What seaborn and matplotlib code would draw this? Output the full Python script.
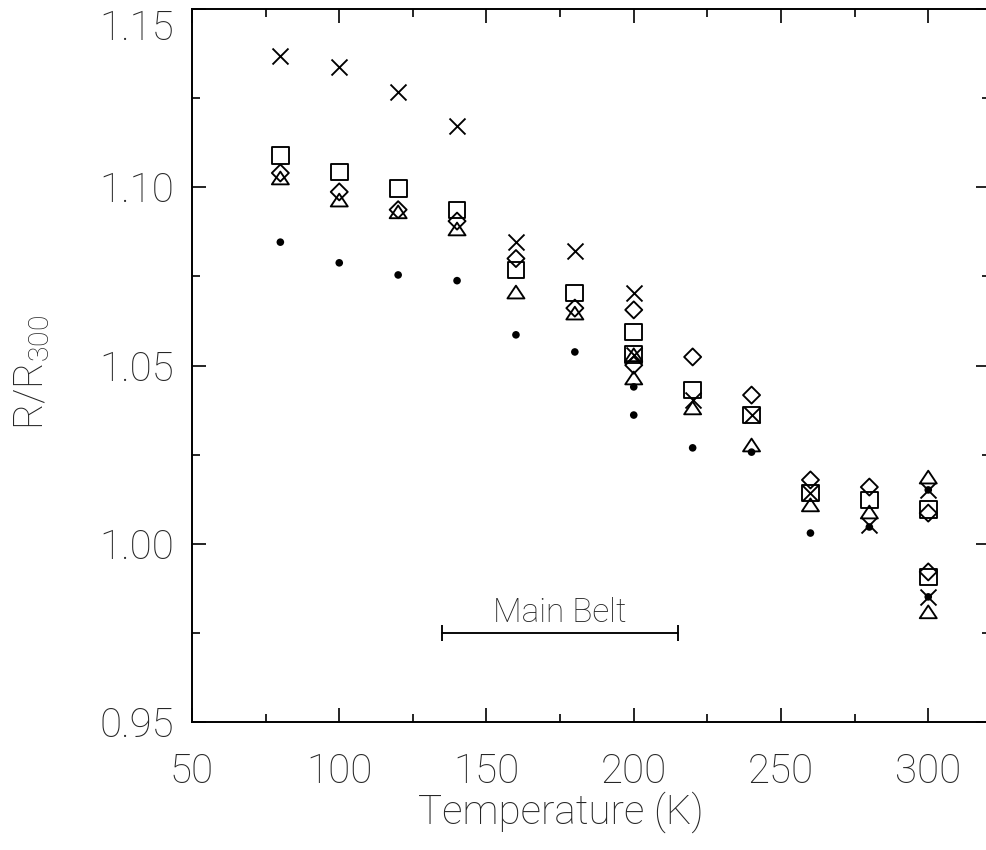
import matplotlib
matplotlib.use("Agg")
import matplotlib.pyplot as plt
import numpy as np
import pandas as pd
import seaborn as sns
from matplotlib.path import Path
from matplotlib.ticker import MultipleLocator, FixedLocator, FixedFormatter

# ---------------- data ----------------
temperature = [80, 100, 120, 140, 160, 180, 200, 220, 240, 260, 280, 300]
cross    = [1.1368, 1.1337, 1.1267, 1.1172, 1.0846, 1.0821, 1.0703, 1.0403, 1.0361, 1.0142, 1.0053, 1.0151]
square   = [1.1090, 1.1043, 1.0997, 1.0936, 1.0768, 1.0703, 1.0594, 1.0431, 1.0361, 1.0142, 1.0123, 1.0097]
diamond  = [1.1040, 1.0987, 1.0937, 1.0905, 1.0800, 1.0661, 1.0656, 1.0524, 1.0417, 1.0179, 1.0159, 1.0086]
triangle = [1.1026, 1.0964, 1.0931, 1.0883, 1.0706, 1.0647, 1.0530, 1.0381, 1.0277, 1.0109, 1.0089, 1.0187]
dot      = [1.0846, 1.0788, 1.0754, 1.0738, 1.0586, 1.0538, 1.0440, 1.0269, 1.0257, 1.0030, 1.0047, 1.0151]

# second measurement runs at 200 K and 300 K
temperature_rerun = [200, 300]
cross_rerun    = [1.0530, 0.9851]
square_rerun   = [1.0530, 0.9907]
diamond_rerun  = [1.0501, 0.9921]
triangle_rerun = [1.0465, 0.9809]
dot_rerun      = [1.0361, 0.9851]

belt_temperature = [135, 215]
belt_ratio = [0.975, 0.975]
belt_label = "Main Belt"

x_ticks = [50, 100, 150, 200, 250, 300]
x_tick_labels = ["50", "100", "150", "200", "250", "300"]
y_ticks = [0.95, 1.00, 1.05, 1.10, 1.15]
y_tick_labels = ["0.95", "1.00", "1.05", "1.10", "1.15"]
x_label = "Temperature (K)"
y_label = "R/R$_{300}$"

# ---------------- build table ----------------
series = {
    "cross": (cross, cross_rerun),
    "square": (square, square_rerun),
    "diamond": (diamond, diamond_rerun),
    "triangle": (triangle, triangle_rerun),
    "dot": (dot, dot_rerun),
}
rows = []
for name, (main, rerun) in series.items():
    for t, r in zip(temperature, main):
        rows.append({"T": t, "R": r, "series": name})
    for t, r in zip(temperature_rerun, rerun):
        rows.append({"T": t, "R": r, "series": name})
df = pd.DataFrame(rows)

# ---------------- style ----------------
sns.set_style("white")
plt.rcParams["font.family"] = ["Roboto", "DejaVu Sans"]
plt.rcParams["font.weight"] = "light"
plt.rcParams["mathtext.fontset"] = "custom"
plt.rcParams["mathtext.rm"] = "Roboto:light"
plt.rcParams["mathtext.default"] = "rm"

fig = plt.figure(figsize=(9.87, 8.5), dpi=100)
ax = fig.add_axes([192 / 987, (850 - 722) / 850, 798 / 987, 713 / 850])

lw = 1.35
tri_marker = Path([(-1, -0.75), (1, -0.75), (0, 0.75), (-1, -0.75)],
                  [Path.MOVETO, Path.LINETO, Path.LINETO, Path.CLOSEPOLY])

styles = {
    "cross":    dict(marker="x", s=132, color="black", linewidth=lw),
    "square":   dict(marker="s", s=145, facecolor="none", edgecolor="black", linewidth=lw),
    "diamond":  dict(marker="D", s=75, facecolor="none", edgecolor="black", linewidth=lw),
    "triangle": dict(marker=tri_marker, s=150, facecolor="none", edgecolor="black", linewidth=lw),
    "dot":      dict(marker="o", s=30, color="black", edgecolor="none", linewidth=0),
}
for name in series:
    sub = df[df["series"] == name]
    sns.scatterplot(data=sub, x="T", y="R", ax=ax, legend=False, zorder=3, **styles[name])

# Main Belt range bar
ax.plot(belt_temperature, belt_ratio, color="black", lw=lw, marker="|",
        markersize=11, markeredgewidth=lw)
ax.text(np.mean(belt_temperature), belt_ratio[0] + 0.0012, belt_label,
        ha="center", va="bottom", fontsize=24, fontweight="light")

# axes
ax.set_xlim(50, 50 + 798 / 2.945)
ax.set_ylim(0.95, 1.15)
ax.xaxis.set_major_locator(FixedLocator(x_ticks))
ax.xaxis.set_major_formatter(FixedFormatter(x_tick_labels))
ax.yaxis.set_major_locator(FixedLocator(y_ticks))
ax.yaxis.set_major_formatter(FixedFormatter(y_tick_labels))
ax.xaxis.set_minor_locator(MultipleLocator(25))
ax.yaxis.set_minor_locator(MultipleLocator(0.025))

ax.tick_params(which="both", direction="in", top=True, right=True,
               bottom=True, left=True, color="black", width=1.2)
ax.tick_params(which="major", length=10)
ax.tick_params(which="minor", length=5.5)
ax.tick_params(axis="x", which="major", pad=22, labelsize=29)
ax.tick_params(axis="y", which="major", pad=13, labelsize=29)

for sp in ax.spines.values():
    sp.set_visible(True)
    sp.set_color("black")
    sp.set_linewidth(1.4)

ax.set_xlabel(x_label, fontsize=29, fontweight="light")
ax.set_ylabel(y_label, fontsize=29, fontweight="light")
# label positions in axes coordinates (reference places them off-centre)
ax.xaxis.set_label_coords((561 - 192) / 798, -(812 - 722) / 713, transform=ax.transAxes)
ax.xaxis.label.set_va("center")
ax.yaxis.set_label_coords(-(192 - 32) / 798, (722 - 372) / 713, transform=ax.transAxes)
ax.yaxis.label.set_va("center")

# keep the top y label inside the figure (reference hangs it below the top tick)
fig.canvas.draw()
ylabels = ax.get_yticklabels()
ylabels[-1].set_va("top")

fig.savefig("out.png", dpi=100, facecolor="white")
